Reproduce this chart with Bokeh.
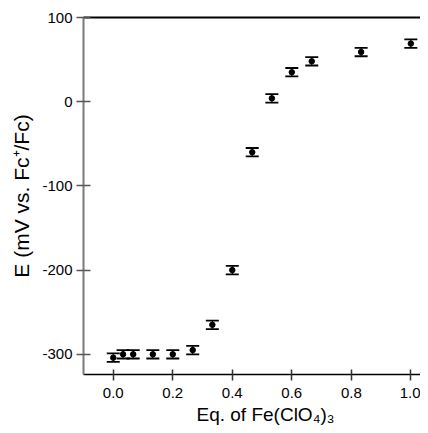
from bokeh.plotting import figure
from bokeh.models import (ColumnDataSource, Whisker, TeeHead, FixedTicker, Range1d,
                          LinearAxis, Title)
from bokeh.embed import file_html
from bokeh.resources import INLINE

eq = [0.0, 0.033, 0.067, 0.133, 0.2, 0.267, 0.333, 0.4, 0.467, 0.533, 0.6, 0.667, 0.833, 1.0]
E_mV = [-304, -300, -300, -300, -300, -295, -265, -200, -60, 4, 35, 48, 59, 69]
err = [5, 5, 5, 5, 5, 5, 5, 5, 5, 5, 5, 5, 5, 5]
x_ticks = [0.0, 0.2, 0.4, 0.6, 0.8, 1.0]
y_ticks = [-300, -200, -100, 0, 100]
x_title = "Eq. of Fe(ClO\u2084)\u2083"
y_title = "E (mV vs. Fc\u207a/Fc)"

src = ColumnDataSource(data=dict(
    x=eq, y=E_mV,
    lo=[v - e for v, e in zip(E_mV, err)],
    hi=[v + e for v, e in zip(E_mV, err)],
))

XMIN, XMAX, YMIN, YMAX = -0.1, 1.0325, -324, 100
p = figure(width=420, height=425, output_backend="svg", toolbar_location=None,
           x_range=Range1d(XMIN, XMAX), y_range=Range1d(YMIN, YMAX),
           min_border_left=83, min_border_right=0, min_border_top=17, min_border_bottom=50)
p.outline_line_color = None
p.grid.visible = False

FONT = "Liberation Sans"

p.xaxis.ticker = FixedTicker(ticks=x_ticks)
p.yaxis.ticker = FixedTicker(ticks=y_ticks)
p.xaxis.major_label_overrides = {t: f"{t:.1f}" for t in x_ticks}
p.yaxis.major_label_overrides = {t: str(t) for t in y_ticks}
for ax in (p.xaxis[0], p.yaxis[0]):
    ax.minor_tick_line_color = None
    ax.major_label_text_font = FONT
    ax.major_label_text_font_size = "15px"
    ax.major_label_text_color = "black"

p.yaxis.axis_line_color = "#7a7a7a"
p.yaxis.axis_line_width = 2
p.yaxis.major_tick_line_color = "#555555"
p.yaxis.major_tick_line_width = 1.5
p.yaxis.major_tick_in = 7
p.yaxis.major_tick_out = 7
p.yaxis.major_label_standoff = 4

p.xaxis.axis_line_color = "black"
p.xaxis.axis_line_width = 1.5
p.xaxis.major_tick_line_color = "#333333"
p.xaxis.major_tick_line_width = 1.5
p.xaxis.major_tick_in = 5
p.xaxis.major_tick_out = 6
p.xaxis.major_label_standoff = 7

# top frame line (no ticks, no labels)
top = LinearAxis(ticker=FixedTicker(ticks=[]), major_tick_line_color=None,
                 minor_tick_line_color=None, axis_line_color="black", axis_line_width=2)
p.add_layout(top, "above")

# axis titles (placed slightly off-centre, as in the reference)
p.add_layout(Title(text=y_title, align="center", offset=-19, standoff=14,
                   text_font=FONT, text_font_size="21px", text_font_style="normal",
                   text_color="black"), "left")
p.add_layout(Title(text=x_title, align="left", offset=113, standoff=2,
                   text_font=FONT, text_font_size="19px", text_font_style="normal",
                   text_color="black"), "below")

# error bars
w = Whisker(base="x", lower="lo", upper="hi", source=src,
            line_color="black", line_width=1,
            upper_head=TeeHead(size=13, line_color="black", line_width=1.8),
            lower_head=TeeHead(size=13, line_color="black", line_width=1.8))
p.add_layout(w)

p.scatter("x", "y", source=src, size=5.5, color="black")

open("out.html", "w").write(file_html(p, INLINE))
